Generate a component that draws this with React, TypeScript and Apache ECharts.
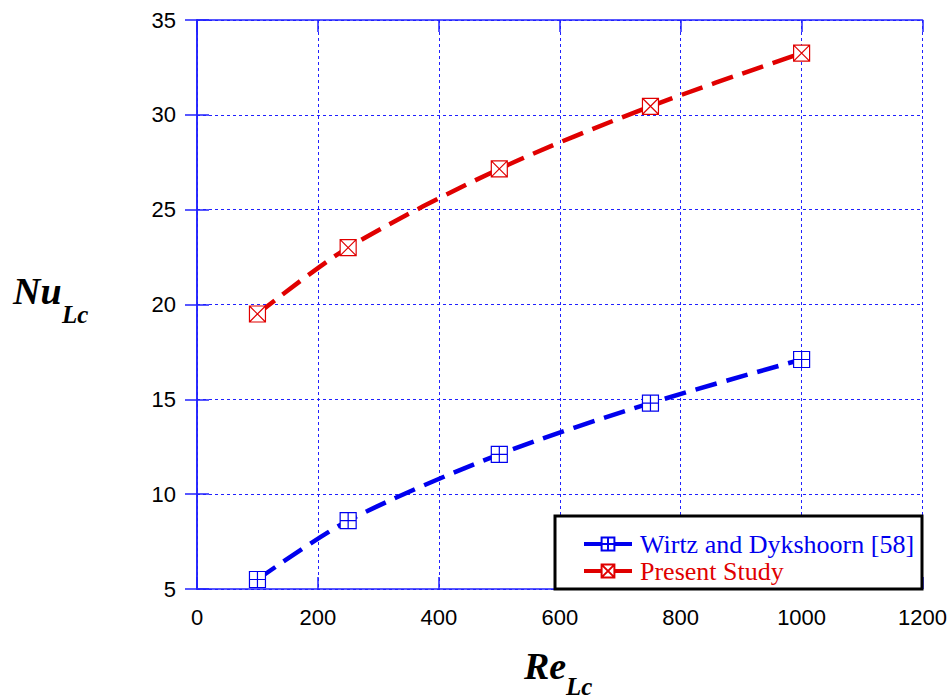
import React, { useEffect, useRef } from "react";
import * as echarts from "echarts";

const reValues = [100, 250, 500, 750, 1000];
const wirtzNu = [5.5, 8.6, 12.1, 14.8, 17.1];
const presentNu = [19.5, 23.0, 27.15, 30.45, 33.25];
const seriesNames = ["Wirtz and Dykshoorn [58]", "Present Study"];

const BLUE = "#0000ee";
const RED = "#e00000";
const GRIDBLUE = "#2020ff";

const plusBox = "path://M0,0H10V10H0Z M5,0V10 M0,5H10";
const crossBox = "path://M0,0H10V10H0Z M0,0L10,10 M10,0L0,10";

export default function App() {
  const ref = useRef<HTMLDivElement>(null);
  useEffect(() => {
    if (!ref.current) return;
    const chart = echarts.init(ref.current, undefined, { renderer: "svg" });
    const axisCommon = {
      axisLine: { show: true, lineStyle: { color: GRIDBLUE, width: 1.5 } },
      axisTick: { show: true, inside: true, length: 12, lineStyle: { color: GRIDBLUE, width: 1.5 } },
    };
    const labelFont = {
      color: "#000",
      fontSize: 22,
      fontFamily: "Liberation Sans, Arial, sans-serif",
      formatter: (v: number) => String(v),
    };
    const option: any = {
      animation: false,
      backgroundColor: "#ffffff",
      grid: { left: 197, right: 27, top: 20, bottom: 111, containLabel: false },
      xAxis: [
        {
          type: "value",
          min: 0,
          max: 1200,
          interval: 200,
          position: "bottom",
          ...axisCommon,
          axisLabel: { ...labelFont, margin: 17 },
          splitLine: { show: true, lineStyle: { color: GRIDBLUE, width: 1, type: [3, 3] } },
        },
        {
          type: "value",
          min: 0,
          max: 1200,
          interval: 200,
          position: "top",
          ...axisCommon,
          axisLabel: { show: false },
          splitLine: { show: false },
        },
      ],
      yAxis: [
        {
          type: "value",
          min: 5,
          max: 35,
          interval: 5,
          position: "left",
          ...axisCommon,
          axisLabel: { ...labelFont, margin: 21 },
          splitLine: { show: true, lineStyle: { color: GRIDBLUE, width: 1, type: [3, 3] } },
        },
        {
          type: "value",
          min: 5,
          max: 35,
          interval: 5,
          position: "right",
          ...axisCommon,
          axisLabel: { show: false },
          splitLine: { show: false },
        },
      ],
      legend: {
        orient: "vertical",
        left: 582,
        top: 531,
        z: 20,
        itemWidth: 48,
        itemHeight: 16,
        itemGap: 1,
        padding: 0,
        lineStyle: { width: 4, type: "solid" },
        data: [
          { name: seriesNames[0], textStyle: { color: BLUE } },
          { name: seriesNames[1], textStyle: { color: RED } },
        ],
        textStyle: {
          fontFamily: "Liberation Serif, Times New Roman, serif",
          fontSize: 26,
          lineHeight: 24,
          padding: [0, 0, 0, 3],
        },
      },
      graphic: [
        {
          type: "rect",
          z: 15,
          shape: { x: 555, y: 516, width: 367, height: 73 },
          style: { fill: "#ffffff", stroke: "#000000", lineWidth: 3 },
        },
        {
          type: "text",
          left: 13,
          top: 272,
          style: { text: "Nu", font: "italic bold 38px 'Liberation Serif', 'Times New Roman', serif", fill: "#000" },
        },
        {
          type: "text",
          left: 62,
          top: 302,
          style: { text: "Lc", font: "italic bold 25px 'Liberation Serif', 'Times New Roman', serif", fill: "#000" },
        },
        {
          type: "text",
          left: 524,
          top: 647,
          style: { text: "Re", font: "italic bold 38px 'Liberation Serif', 'Times New Roman', serif", fill: "#000" },
        },
        {
          type: "text",
          left: 566,
          top: 674,
          style: { text: "Lc", font: "italic bold 25px 'Liberation Serif', 'Times New Roman', serif", fill: "#000" },
        },
      ],
      series: [
        {
          name: seriesNames[0],
          type: "line",
          smooth: 0.3,
          data: reValues.map((x, i) => [x, wirtzNu[i]]),
          symbol: plusBox,
          symbolSize: 16,
          lineStyle: { color: BLUE, width: 4.5, type: [22, 10] },
          itemStyle: { color: "#ffffff", borderColor: BLUE, borderWidth: 1.2 },
          z: 3,
        },
        {
          name: seriesNames[1],
          type: "line",
          smooth: 0.3,
          data: reValues.map((x, i) => [x, presentNu[i]]),
          symbol: crossBox,
          symbolSize: 16,
          lineStyle: { color: RED, width: 4.5, type: [22, 10] },
          itemStyle: { color: "#ffffff", borderColor: RED, borderWidth: 1.2 },
          z: 3,
        },
      ],
    };
    chart.setOption(option);
    return () => chart.dispose();
  }, []);
  return (
    <div
      ref={ref}
      style={{ position: "fixed", left: 0, top: 0, width: 950, height: 700, background: "#fff" }}
    />
  );
}
